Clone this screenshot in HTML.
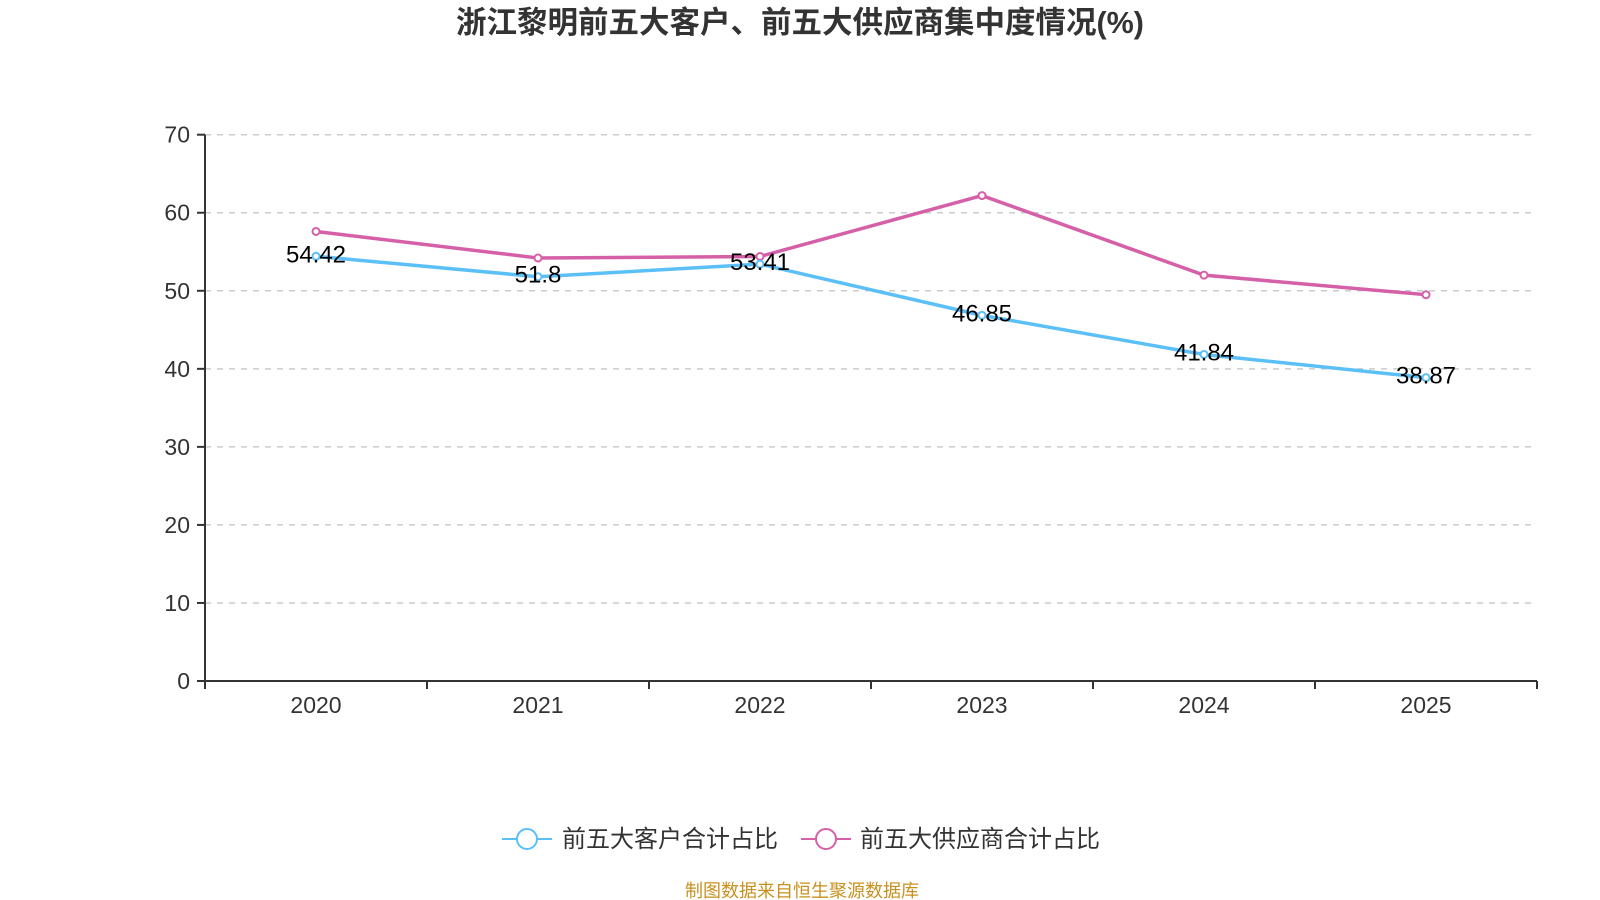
<!DOCTYPE html>
<html><head><meta charset="utf-8"><style>
body{margin:0;background:#fff;}
svg{display:block;font-family:"Liberation Sans","Noto Sans CJK SC",sans-serif;}
</style></head><body>
<svg id="c" width="1600" height="900">
<text x="800" y="33" text-anchor="middle" font-size="30.5" font-weight="bold" fill="#333">浙江黎明前五大客户、前五大供应商集中度情况(%)</text>
<g id="grid"></g><g id="axes"></g><g id="series"></g>
<g>
<g><line x1="502" y1="839" x2="552" y2="839" stroke="#5bc0f8" stroke-width="2"/><circle cx="527" cy="839" r="10" fill="#fff" stroke="#5bc0f8" stroke-width="2"/><text x="562" y="847" font-size="24" fill="#333">前五大客户合计占比</text></g>
<g><line x1="801" y1="839" x2="851" y2="839" stroke="#d660a8" stroke-width="2"/><circle cx="826" cy="839" r="10" fill="#fff" stroke="#d660a8" stroke-width="2"/><text x="860" y="847" font-size="24" fill="#333">前五大供应商合计占比</text></g>
</g>
<text x="802" y="897" text-anchor="middle" font-size="18" fill="#c8901e">制图数据来自恒生聚源数据库</text>
</svg>
<script>
const categories=["2020","2021","2022","2023","2024","2025"];
const customers=[54.42,51.8,53.41,46.85,41.84,38.87];
const suppliers=[57.6,54.2,54.4,62.2,52.0,49.5];
const yTicks=[0,10,20,30,40,50,60,70];
const NS="http://www.w3.org/2000/svg";
const L=205,R=1537,T=134.7,B=681,yMax=70;
const bw=(R-L)/categories.length;
const xs=i=>L+bw*(i+0.5);
const ys=v=>B-(v/yMax)*(B-T);
function mk(p,tag,a){const e=document.createElementNS(NS,tag);for(const k in a)e.setAttribute(k,a[k]);p.appendChild(e);return e;}
const grid=document.getElementById('grid'),axes=document.getElementById('axes'),ser=document.getElementById('series');
yTicks.forEach(t=>{const y=ys(t);
 if(t>0){const g=mk(grid,'line',{x1:L,x2:R,y1:y,y2:y,stroke:'#ccc','stroke-width':1.5,'stroke-dasharray':'6,6'});
 
 }
 mk(axes,'line',{x1:L-8,x2:L,y1:y,y2:y,stroke:'#333','stroke-width':2});
 const tx=mk(axes,'text',{x:L-15,y:y+8,'text-anchor':'end','font-size':23,fill:'#333'});tx.textContent=t;
 
 
});
mk(axes,'line',{x1:L,x2:L,y1:T,y2:B,stroke:'#333','stroke-width':2});
mk(axes,'line',{x1:L,x2:R,y1:B,y2:B,stroke:'#333','stroke-width':2});
for(let i=0;i<=categories.length;i++){const x=L+bw*i;mk(axes,'line',{x1:x,x2:x,y1:B,y2:B+8,stroke:'#333','stroke-width':2});}
categories.forEach((c,i)=>{const t=mk(axes,'text',{x:xs(i),y:B+32,'text-anchor':'middle','font-size':23,fill:'#333'});t.textContent=c;
 
 });
function draw(data,color,name,labels){
 const p=mk(ser,'polyline',{points:data.map((v,i)=>xs(i)+','+ys(v)).join(' '),fill:'none',stroke:color,'stroke-width':3.5});
 
 
 data.forEach((v,i)=>{const c=mk(ser,'circle',{cx:xs(i),cy:ys(v),r:3.5,fill:'#fff',stroke:color,'stroke-width':2});
  
  
  if(labels){const t=mk(ser,'text',{x:xs(i),y:ys(v)+6,'text-anchor':'middle','font-size':24,fill:'#000'});t.textContent=v;
  
  }
 });
}
draw(suppliers,'#d660a8','suppliers',false);
draw(customers,'#5bc0f8','customers',true);
</script>
</body></html>
